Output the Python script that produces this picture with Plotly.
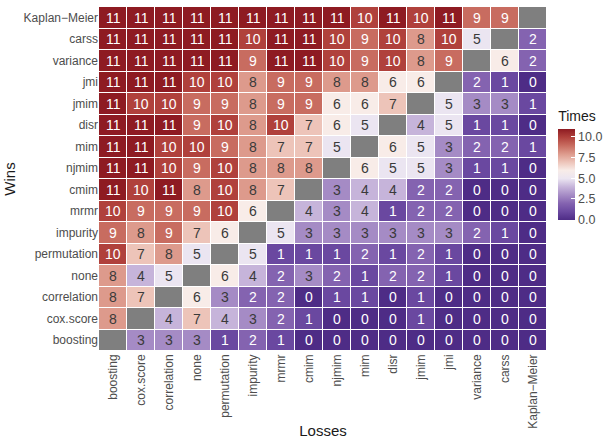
import plotly.graph_objects as go

# Methods, ordered as they appear along the axes
losses = ["boosting", "cox.score", "correlation", "none", "permutation", "impurity",
          "mrmr", "cmim", "njmim", "mim", "disr", "jmim", "jmi", "variance",
          "carss", "Kaplan\u2212Meier"]
wins = ["Kaplan\u2212Meier", "carss", "variance", "jmi", "jmim", "disr", "mim",
        "njmim", "cmim", "mrmr", "impurity", "permutation", "none", "correlation",
        "cox.score", "boosting"]

# Number of times the row method beat the column method (None = same method)
times = [
    [11, 11, 11, 11, 11, 11, 11, 11, 11, 10, 11, 10, 11, 9, 9, None],
    [11, 11, 11, 11, 11, 10, 11, 11, 10, 9, 10, 8, 10, 5, None, 2],
    [11, 11, 11, 11, 11, 9, 11, 11, 10, 9, 10, 8, 9, None, 6, 2],
    [11, 11, 11, 10, 10, 8, 9, 9, 8, 8, 6, 6, None, 2, 1, 0],
    [11, 10, 10, 9, 9, 8, 9, 9, 6, 6, 7, None, 5, 3, 3, 1],
    [11, 11, 11, 9, 10, 8, 10, 7, 6, 5, None, 4, 5, 1, 1, 0],
    [11, 11, 10, 10, 9, 8, 7, 7, 5, None, 6, 5, 3, 2, 2, 1],
    [11, 11, 10, 9, 10, 8, 8, 8, None, 6, 5, 5, 3, 1, 1, 0],
    [11, 10, 11, 8, 10, 8, 7, None, 3, 4, 4, 2, 2, 0, 0, 0],
    [10, 9, 9, 9, 10, 6, None, 4, 3, 4, 1, 2, 2, 0, 0, 0],
    [9, 8, 9, 7, 6, None, 5, 3, 3, 3, 3, 3, 3, 2, 1, 0],
    [10, 7, 8, 5, None, 5, 1, 1, 1, 2, 1, 2, 1, 0, 0, 0],
    [8, 4, 5, None, 6, 4, 2, 3, 2, 1, 2, 2, 1, 0, 0, 0],
    [8, 7, None, 6, 3, 2, 2, 0, 1, 1, 0, 1, 0, 0, 0, 0],
    [8, None, 4, 7, 4, 3, 2, 1, 0, 0, 0, 1, 0, 0, 0, 0],
    [None, 3, 3, 3, 1, 2, 1, 0, 0, 0, 0, 0, 0, 0, 0, 0],
]

zmax = 11
fill_colors = ["#4E2C86", "#6A48A0", "#8463B0", "#A58BC5", "#C6B4DA", "#EBE5F1",
               "#F8ECE8", "#EDC4B9", "#DD9A8C", "#C86C60", "#B0413C", "#8E1B22"]
colorscale = [[i / zmax, c] for i, c in enumerate(fill_colors)]

# diagonal cells (method vs itself) drawn in grey
diag = [[1 if v is None else None for v in row] for row in times]

fig = go.Figure()
fig.add_trace(go.Heatmap(
    z=times, x=losses, y=wins, zmin=0, zmax=zmax,
    colorscale=colorscale, xgap=1, ygap=1, hoverongaps=False,
    colorbar=dict(
        title=dict(text="Times", font=dict(size=14, color="#1a1a1a"), side="top"),
        tickvals=[0, 2.5, 5, 7.5, 10], ticktext=["0.0", "2.5", "5.0", "7.5", "10.0"],
        ticks="inside", ticklen=4, tickcolor="white",
        tickfont=dict(size=12.5, color="#4d4d4d"),
        thickness=17, thicknessmode="pixels", len=112, lenmode="pixels",
        x=1.025, xanchor="left", y=0.545, yanchor="middle",
        outlinewidth=0, xpad=0, ypad=0,
    ),
))
fig.add_trace(go.Heatmap(
    z=diag, x=losses, y=wins, colorscale=[[0, "#7F7F7F"], [1, "#7F7F7F"]],
    showscale=False, xgap=1, ygap=1, hoverongaps=False,
))

annotations = []
for r, row in enumerate(times):
    for c, v in enumerate(row):
        if v is None:
            continue
        color = "white" if (v >= 9 or v <= 2) else "#3a3a3a"
        annotations.append(dict(
            x=losses[c], y=wins[r], text=str(v), showarrow=False,
            font=dict(size=14, color=color),
        ))

fig.update_layout(
    width=614, height=439,
    margin=dict(l=99, r=63, t=7, b=88),
    paper_bgcolor="white", plot_bgcolor="white",
    font=dict(family="Liberation Sans, Arial, sans-serif"),
    annotations=annotations,
    xaxis=dict(
        title=dict(text="Losses", font=dict(size=15, color="#1a1a1a"), standoff=4),
        tickangle=-90, tickfont=dict(size=12, color="#4d4d4d"),
        categoryorder="array", categoryarray=losses, automargin=False,
        showgrid=False, zeroline=False, ticks="",
    ),
    yaxis=dict(
        title=dict(text="Wins", font=dict(size=15, color="#1a1a1a"), standoff=4),
        tickfont=dict(size=12, color="#4d4d4d"),
        categoryorder="array", categoryarray=wins[::-1], automargin=False,
        showgrid=False, zeroline=False, ticks="",
    ),
)

fig.write_html("out.html")
